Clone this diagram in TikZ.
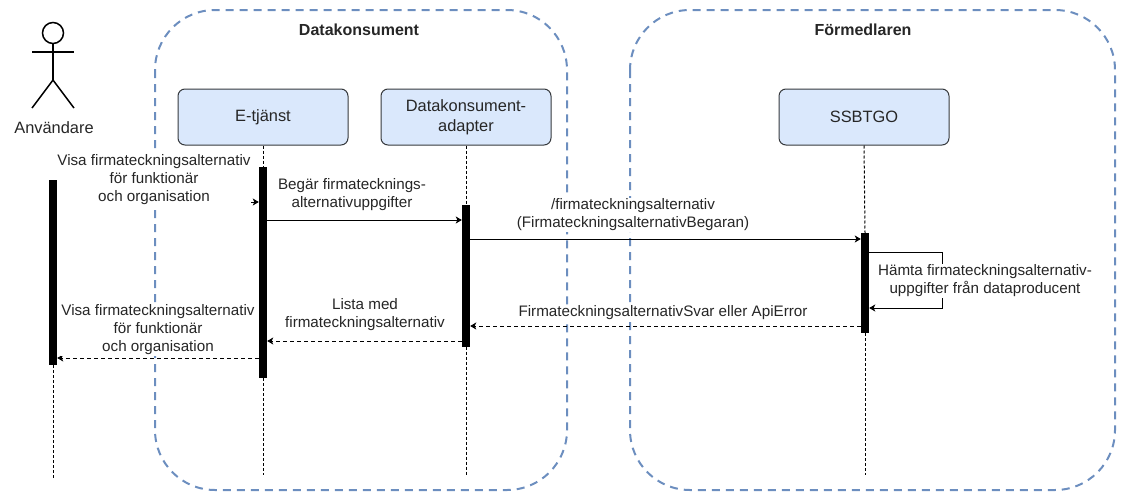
\documentclass[tikz,border=0pt]{standalone}
\usepackage{fontspec}
\setmainfont{Liberation Sans}
\usetikzlibrary{arrows.meta}
\definecolor{contblue}{HTML}{6C8EBF}
\definecolor{partfill}{HTML}{DAE8FC}
\definecolor{partdraw}{HTML}{36393D}
\tikzset{
  container/.style={draw=contblue, line width=2pt, dash pattern=on 8pt off 6pt, rounded corners=60pt},
  ctitle/.style={font=\fontsize{16}{19}\selectfont\bfseries, text=black!85},
  partbox/.style={draw=partdraw, fill=partfill, line width=1pt, rounded corners=7pt,
    minimum width=170pt, minimum height=56pt, align=center, font=\fontsize{16.4}{20}\selectfont, text=black!85},
  actbar/.style={fill=black, draw=none, minimum width=8pt, inner sep=0pt},
  lifeline/.style={draw=black, line width=1pt, dash pattern=on 3pt off 2pt},
  msg/.style={draw=black, line width=1pt, -{Stealth[length=6pt,width=7pt,inset=1.5pt]}},
  ret/.style={msg, dash pattern=on 4pt off 3pt},
  lbl/.style={fill=white, align=center, inner sep=0.5pt, font=\fontsize{15.2}{18}\selectfont, text=black!85},
  actorline/.style={draw=black, line width=1.5pt}
}
\begin{document}
\begin{tikzpicture}[x=1pt,y=-1pt]
\useasboundingbox (0,0) rectangle (1122,493);
% containers
\draw[container] (155,10) rectangle (567,490);
\draw[container] (630,10) rectangle (1115,490);
\node[ctitle] (t1) at (359,30) {Datakonsument};
\node[ctitle] (t2) at (863,30) {Förmedlaren};
% actor
\draw[actorline] (53,33) circle (10.5);
\draw[actorline] (53,43.5) -- (53,80);
\draw[actorline] (32,52) -- (74,52);
\draw[actorline] (32,108) -- (53,80) -- (74,108);
\node[font=\fontsize{16.4}{19}\selectfont, text=black!85] (user) at (54,128) {Användare};
% participants
\node[partbox] (et) at (263,117) {E-tjänst};
\node[partbox] (ad) at (466,117) {Datakonsument-\\adapter};
\node[partbox] (sb) at (864,117) {SSBTGO};
% activation bars
\node[actbar, minimum height=185pt] (ua) at (53,272.5) {};
\node[actbar, minimum height=211pt] (ea) at (263,272.5) {};
\node[actbar, minimum height=142pt] (aa) at (466,275.5) {};
\node[actbar, minimum height=100pt] (sa) at (865,283) {};
% lifeline ends
\coordinate (uend) at (53,478);
\coordinate (eend) at (263,475);
\coordinate (aend) at (466,475);
\coordinate (send) at (865,475);
\draw[lifeline] (ua.south) -- (uend);
\draw[lifeline] (et.south) -- (ea.north);
\draw[lifeline] (ea.south) -- (eend);
\draw[lifeline] (ad.south) -- (aa.north);
\draw[lifeline] (aa.south) -- (aend);
\draw[lifeline] (sb.south) -- (sa.north);
\draw[lifeline] (sa.south) -- (send);
% message 1
\draw[msg] (ua.east |- 0,202) -- (ea.west |- 0,202);
\node[lbl] (l1) at (154,180) {Visa firmateckningsalternativ\\för funktionär\\och organisation};
% message 2
\draw[msg] (ea.east |- 0,220) -- (aa.west |- 0,220);
\node[lbl] (l2) at (352,195) {Begär firmatecknings-\\alternativuppgifter};
% message 3
\draw[msg] (aa.east |- 0,239) -- (sa.west |- 0,239);
\node[lbl] (l3) at (633,215) {/firmateckningsalternativ\\(FirmateckningsalternativBegaran)};
% self message
\coordinate (loopa) at (942,252);
\coordinate (loopb) at (942,308);
\draw[msg] (sa.east |- 0,252) -- (loopa) -- (loopb) -- (sa.east |- 0,308);
\node[lbl] (l4) at (985,281) {Hämta firmateckningsalternativ-\\uppgifter från dataproducent};
% return 1
\draw[ret] (sa.west |- 0,326) -- (aa.east |- 0,326);
\node[lbl] (l5) at (663,313) {FirmateckningsalternativSvar eller ApiError};
% return 2
\draw[ret] (aa.west |- 0,341) -- (ea.east |- 0,341);
\node[lbl] (l6) at (365,315) {Lista med\\firmateckningsalternativ};
% return 3
\draw[ret] (ea.west |- 0,358) -- (ua.east |- 0,358);
\node[lbl] (l7) at (158,330) {Visa firmateckningsalternativ\\för funktionär\\och organisation};
\end{tikzpicture}
\end{document}
